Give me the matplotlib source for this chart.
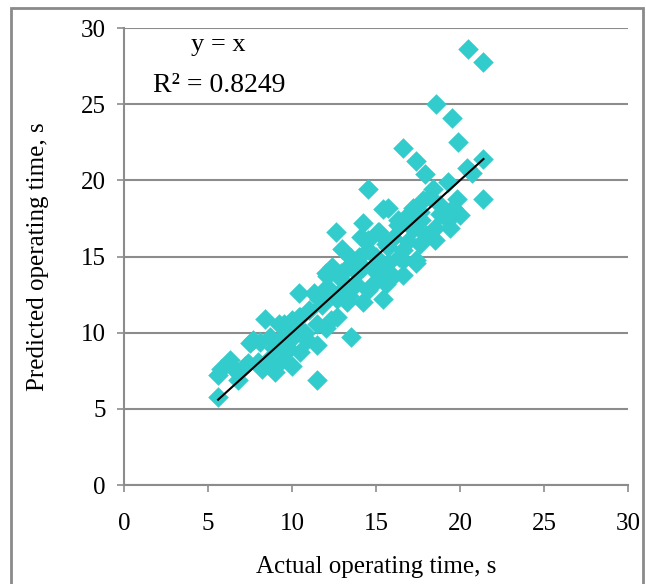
import matplotlib.pyplot as plt
from matplotlib.patches import Rectangle

# actual vs predicted operating time (s)
actual = [20.5, 21.4, 18.6, 19.5, 19.9, 16.6, 17.4, 17.9, 20.4, 20.7, 21.4, 21.4,
          19.3, 18.4, 18.2, 19.8, 19.6, 20.0, 15.7, 17.2, 17.7, 18.5, 19.3, 16.3,
          19.4, 18.5, 17.4, 16.6, 15.2, 16.3, 14.5, 15.7, 16.0, 14.5, 15.4, 16.6,
          15.1, 14.2, 14.5, 12.6, 15.4, 17.8, 14.1, 15.1, 15.7, 16.6, 17.4, 13.6,
          14.5, 12.9, 12.1, 15.2, 10.4, 8.4, 13.5, 13.5, 12.0, 12.4, 11.3, 12.1,
          12.9, 11.5, 10.5, 9.5, 9.9, 10.9, 12.7, 12.7, 13.9, 7.7, 8.7, 5.6,
          5.6, 5.8, 6.3, 6.7, 6.8, 7.5, 8.1, 7.4, 8.2, 9.0, 8.6, 9.4,
          9.8, 9.2, 10.0, 10.2, 9.2, 10.4, 11.5, 11.5, 10.5, 10.5, 12.3, 13.3,
          14.2, 10.8, 11.0, 11.8, 12.4, 13.0, 13.2, 13.8, 14.0, 14.8, 15.0, 15.6,
          16.0, 16.4, 16.9, 17.2, 17.6, 18.0, 18.8, 14.8, 13.4, 11.6, 10.0, 9.6,
          8.9, 8.0, 7.2, 12.0, 15.6, 16.8, 17.6, 18.8, 14.2, 13.0]
predicted = [28.6, 27.8, 25.0, 24.1, 22.5, 22.1, 21.3, 20.4, 20.8, 20.5, 21.4, 18.8,
             19.9, 19.4, 18.9, 18.8, 18.2, 17.7, 18.2, 18.2, 17.4, 16.9, 17.4, 17.4,
             16.9, 16.1, 14.6, 15.4, 16.6, 17.1, 16.1, 14.6, 13.7, 12.8, 12.2, 13.8,
             13.9, 14.3, 19.4, 16.6, 18.1, 18.7, 16.3, 16.6, 15.6, 14.8, 14.8, 14.6,
             15.4, 13.9, 13.7, 14.1, 12.6, 10.9, 9.7, 14.9, 13.9, 14.3, 12.6, 13.0,
             13.5, 10.6, 11.0, 10.6, 9.5, 9.5, 12.2, 11.0, 13.9, 9.5, 9.7, 5.8,
             7.2, 7.6, 8.2, 7.4, 6.9, 9.3, 9.4, 8.0, 7.6, 7.4, 8.2, 8.2,
             8.9, 9.3, 7.8, 10.2, 10.6, 11.0, 6.9, 9.2, 10.2, 8.7, 10.8, 12.0,
             12.0, 10.0, 11.5, 11.8, 12.5, 12.8, 14.2, 13.2, 15.0, 14.2, 15.0, 15.8,
             16.2, 15.0, 16.0, 16.8, 15.8, 16.4, 17.8, 13.2, 12.4, 12.2, 10.8, 9.9,
             9.0, 8.1, 7.8, 10.3, 13.2, 17.6, 17.9, 18.4, 17.2, 15.5]

x_ticks = [0, 5, 10, 15, 20, 25, 30]
y_ticks = [0, 5, 10, 15, 20, 25, 30]

plt.rcParams['font.family'] = 'Liberation Serif'

fig = plt.figure(figsize=(6.46, 5.84), dpi=100)
ax = fig.add_axes([0.192, 0.1695, 0.78, 0.7825])

# outer chart frame
fig.patches.append(Rectangle((0.017, -0.1), 0.978, 1.086, transform=fig.transFigure,
                             fill=False, edgecolor='#8a8a8a', linewidth=2))

ax.scatter(actual, predicted, marker='D', s=110, color='#33CCCC', linewidths=0, zorder=3)

# y = x line over the range of actual values
lo, hi = min(actual), max(actual)
ax.plot([lo, hi], [lo, hi], color='black', linewidth=1.5, zorder=4)

ax.set_xlim(0, 30)
ax.set_ylim(0, 30)
ax.set_xticks(x_ticks)
ax.set_yticks(y_ticks)
ax.yaxis.grid(True, color='#8c8c8c', linewidth=1.5)
ax.set_axisbelow(True)
for s in ['top', 'right']:
    ax.spines[s].set_visible(False)
for s in ['left', 'bottom']:
    ax.spines[s].set_color('#8c8c8c')
    ax.spines[s].set_linewidth(1.5)
ax.tick_params(colors='#8c8c8c', labelcolor='black', labelsize=18, length=5, width=1.2)
ax.tick_params(axis='x', pad=15)
ax.tick_params(axis='y', pad=8)

ax.set_xlabel('Actual operating time, s', fontsize=18, labelpad=15)
ax.set_ylabel('Predicted operating time, s', fontsize=18, labelpad=23)

ax.text(5.6, 28.9, 'y = x', fontsize=19, ha='center', va='center')
ax.text(5.65, 26.2, 'R² = 0.8249', fontsize=20, ha='center', va='center')

fig.savefig('out.png', dpi=100)
